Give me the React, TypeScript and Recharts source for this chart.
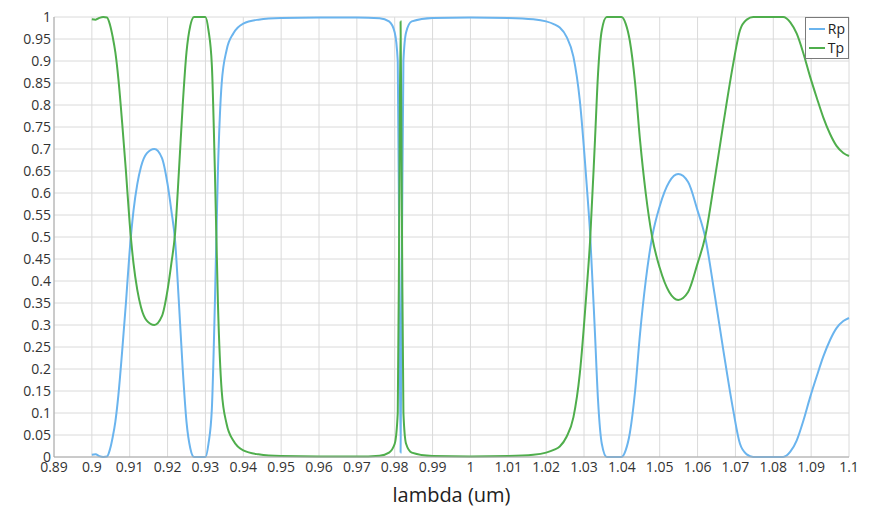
import { LineChart, Line, XAxis, YAxis, CartesianGrid } from "recharts"

// wavelength samples (um), denser where the curves turn fast
const lambda = [
  0.9, 0.901, 0.902, 0.903, 0.904, 0.9048, 0.9055, 0.9062, 0.907, 0.908, 0.909, 0.91, 0.911, 0.912, 0.913, 0.9145,
  0.9165, 0.9185, 0.92, 0.921, 0.922, 0.923, 0.924, 0.925, 0.926, 0.927, 0.93, 0.9308, 0.9317, 0.9325, 0.9333,
  0.9343, 0.9356, 0.9374, 0.94, 0.944, 0.95, 0.96, 0.97, 0.976, 0.9785, 0.98, 0.9808, 0.9812, 0.98155, 0.9819,
  0.9823, 0.983, 0.9845, 0.99, 1.0, 1.01, 1.0166, 1.02, 1.022, 1.0236, 1.0254, 1.0272, 1.0289, 1.0307, 1.0316,
  1.0329, 1.0337, 1.0347, 1.036, 1.0399, 1.041, 1.0421, 1.0435, 1.0448, 1.0463, 1.048, 1.05, 1.0525, 1.0549,
  1.0575, 1.06, 1.062, 1.0645, 1.0668, 1.0694, 1.0712, 1.073, 1.0747, 1.0826, 1.0845, 1.0862, 1.088, 1.0897,
  1.0915, 1.0932, 1.095, 1.0967, 1.0985, 1.1,
]

const rp = [
  0.005, 0.006, 0.002, 0.0, 0.001, 0.018, 0.045, 0.08, 0.14, 0.24, 0.35, 0.47, 0.56, 0.62, 0.66, 0.69,
  0.7, 0.68, 0.62, 0.56, 0.49, 0.35, 0.2, 0.08, 0.02, 0.0, 0.0, 0.03, 0.11, 0.35, 0.65,
  0.85, 0.925, 0.963, 0.985, 0.994, 0.998, 0.999, 0.999, 0.997, 0.99, 0.965, 0.9, 0.45, 0.01, 0.45,
  0.9, 0.965, 0.99, 0.998, 0.999, 0.998, 0.995, 0.99, 0.984, 0.976, 0.955, 0.91, 0.81, 0.62, 0.51,
  0.28, 0.13, 0.03, 0.0, 0.0, 0.015, 0.054, 0.15, 0.28, 0.4, 0.5, 0.57, 0.625, 0.643,
  0.625, 0.56, 0.5, 0.37, 0.243, 0.107, 0.03, 0.006, 0.0, 0.0, 0.012, 0.038, 0.084, 0.135,
  0.184, 0.228, 0.266, 0.293, 0.309, 0.316,
]

const tp = [
  0.995, 0.994, 0.998, 1.0, 0.999, 0.982, 0.955, 0.92, 0.86, 0.76, 0.65, 0.53, 0.44, 0.38, 0.34, 0.31,
  0.3, 0.32, 0.38, 0.44, 0.51, 0.65, 0.8, 0.92, 0.98, 1.0, 1.0, 0.97, 0.89, 0.65, 0.35,
  0.15, 0.075, 0.037, 0.015, 0.006, 0.002, 0.001, 0.001, 0.003, 0.01, 0.03, 0.1, 0.55, 0.99, 0.55,
  0.1, 0.03, 0.01, 0.002, 0.001, 0.002, 0.005, 0.01, 0.016, 0.024, 0.046, 0.09, 0.19, 0.38, 0.49,
  0.72, 0.87, 0.97, 1.0, 1.0, 0.985, 0.946, 0.85, 0.72, 0.6, 0.5, 0.43, 0.375, 0.357,
  0.375, 0.44, 0.5, 0.63, 0.757, 0.893, 0.97, 0.994, 1.0, 1.0, 0.988, 0.962, 0.916, 0.865,
  0.816, 0.772, 0.734, 0.707, 0.691, 0.684,
]

const xTicks = [
  0.89, 0.9, 0.91, 0.92, 0.93, 0.94, 0.95, 0.96, 0.97, 0.98, 0.99, 1, 1.01, 1.02, 1.03, 1.04, 1.05, 1.06, 1.07,
  1.08, 1.09, 1.1,
]
const yTicks = [
  0, 0.05, 0.1, 0.15, 0.2, 0.25, 0.3, 0.35, 0.4, 0.45, 0.5, 0.55, 0.6, 0.65, 0.7, 0.75, 0.8, 0.85, 0.9, 0.95, 1,
]

const BLUE = "#6ab4ee"
const GREEN = "#4fae4c"
const FONT = "'Open Sans', 'Noto Sans', sans-serif"

const data = lambda.map((x, i) => ({ lambda: x, Rp: rp[i], Tp: tp[i] }))

const fmt = (v: number) => String(Number(v.toFixed(2)))

function LegendBox() {
  return (
    <div
      style={{
        position: "absolute",
        top: 17,
        right: 24,
        border: "1px solid #7a7a7a",
        background: "#fff",
        padding: "1px 3px 1px 3px",
        fontFamily: FONT,
        fontSize: 14,
        lineHeight: "19px",
        color: "#222",
      }}
    >
      {[
        { name: "Rp", color: BLUE },
        { name: "Tp", color: GREEN },
      ].map((s) => (
        <div key={s.name} style={{ display: "flex", alignItems: "center" }}>
          <span style={{ display: "inline-block", width: 16, height: 2, background: s.color, marginRight: 3 }} />
          <span>{s.name}</span>
        </div>
      ))}
    </div>
  )
}

export default function App() {
  return (
    <div style={{ position: "relative", width: 873, height: 508, background: "#fff" }}>
      <style>{"body{margin:0}"}</style>
      <LineChart width={873} height={508} data={data} margin={{ top: 17, right: 24, left: 0, bottom: 0 }}>
        <CartesianGrid stroke="#dadada" strokeWidth={1} />
        <XAxis
          dataKey="lambda"
          type="number"
          domain={[0.89, 1.1]}
          ticks={xTicks}
          tickFormatter={fmt}
          interval={0}
          height={51}
          stroke="#a8a8a8"
          tickLine={false}
          tickSize={3}
          tickMargin={2}
          tick={{ fontSize: 14, fill: "#333", fontFamily: FONT }}
          label={{
            value: "lambda (um)",
            position: "insideBottom",
            offset: 6,
            style: { fontSize: 20, fill: "#222", fontFamily: FONT },
          }}
        />
        <YAxis
          type="number"
          domain={[0, 1]}
          ticks={yTicks}
          tickFormatter={fmt}
          interval={0}
          width={54}
          stroke="#a8a8a8"
          tickLine={false}
          tickSize={0}
          tickMargin={3}
          tick={{ fontSize: 14, fill: "#333", fontFamily: FONT }}
        />
        <Line
          type="monotone"
          dataKey="Rp"
          stroke={BLUE}
          strokeWidth={2}
          dot={false}
          isAnimationActive={false}
        />
        <Line
          type="monotone"
          dataKey="Tp"
          stroke={GREEN}
          strokeWidth={2}
          dot={false}
          isAnimationActive={false}
        />
      </LineChart>
      <LegendBox />
    </div>
  )
}
